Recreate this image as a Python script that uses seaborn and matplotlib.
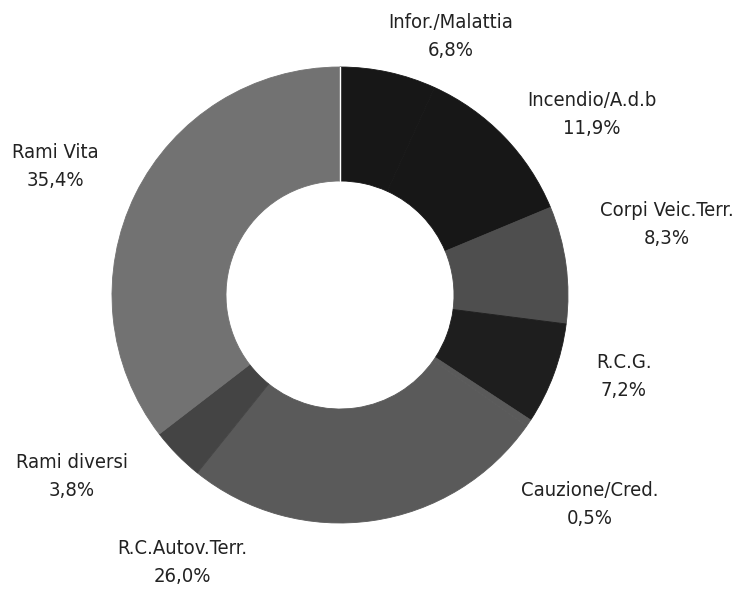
import matplotlib
matplotlib.use("Agg")
import matplotlib.pyplot as plt
import seaborn as sns

# ==========================================
# DATA
# ==========================================

categories = [
    "Infor./Malattia",
    "Incendio/A.d.b",
    "Corpi Veic.Terr.",
    "R.C.G.",
    "Cauzione/Cred.",
    "R.C.Autov.Terr.",
    "Rami diversi",
    "Rami Vita",
]

shares = [6.8, 11.9, 8.3, 7.2, 0.5, 26.0, 3.8, 35.4]

colors = [
    "#171717",
    "#171717",
    "#4e4e4e",
    "#1e1e1e",
    "#5a5a5a",
    "#5a5a5a",
    "#444444",
    "#727272",
]

# label anchor points (pixels from top-left)
label_pos = [
    (451, 22),
    (592, 100),
    (667, 210),
    (624, 362),
    (590, 490),
    (182, 548),
    (72, 463),
    (55, 152),
]

# ==========================================
# PLOT
# ==========================================

sns.set_theme(style="white")
plt.rcParams["font.family"] = ["DejaVu Sans"]

W, H = 744, 589
fig = plt.figure(figsize=(W / 100, H / 100), dpi=100)
ax = fig.add_axes([0, 0, 1, 1])

wedges, _ = ax.pie(
    shares,
    colors=colors,
    startangle=90,
    counterclock=False,
    center=(340, H - 295),
    radius=228,
    wedgeprops=dict(width=114),
    frame=True,
)

# hide antialiasing seams between slices
for w in wedges:
    w.set_edgecolor(w.get_facecolor())
    w.set_linewidth(0.6)

# thin white seam at the top between Rami Vita and the first slice
ax.plot([340, 340], [H - 295 + 114, H - 295 + 228], color="white", lw=1, zorder=5)

for name, val, (x, y) in zip(categories, shares, label_pos):
    txt = f"{val:.1f}%".replace(".", ",")
    ax.text(x, H - y, name, ha="center", va="center", fontsize=14.5,
            fontstretch="condensed", color="#222222")
    ax.text(x, H - y - 28, txt, ha="center", va="center", fontsize=14.5,
            fontstretch="condensed", color="#222222")

ax.set_xlim(0, W)
ax.set_ylim(0, H)
ax.set_aspect("equal")
ax.axis("off")

plt.savefig("out.png", dpi=100)
plt.close()
